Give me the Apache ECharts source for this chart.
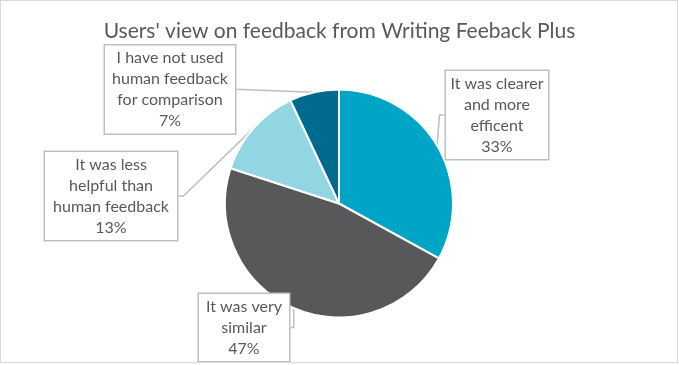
<!DOCTYPE html>
<html>
<head>
<meta charset="utf-8">
<script src="https://cdn.jsdelivr.net/npm/echarts@6/dist/echarts.min.js"></script>
<style>
  html, body { margin: 0; padding: 0; background: #fff; }
  #wrap { position: relative; width: 679px; height: 365px; overflow: hidden; }
  #chart { position: absolute; left: 0; top: 0; width: 679px; height: 365px; }
  #frame { position: absolute; left: 0; top: 0; width: 678px; height: 363px; box-sizing: border-box; border: 1.5px solid #D9D9D9; pointer-events: none; }
  #strip { position: absolute; left: 0; top: 363px; width: 679px; height: 2px; background: #fff; }
</style>
</head>
<body>
<div id="wrap">
  <div id="chart"></div>
  <div id="strip"></div>
  <div id="frame"></div>
</div>
<script>
const titleText = "Users' view on feedback from Writing Feeback Plus";
const categories = [
  "It was clearer and more efficent",
  "It was very similar",
  "It was less helpful than human feedback",
  "I have not used human feedback for comparison"
];
const labelLines = [
  "It was clearer\nand more\nefficent",
  "It was very\nsimilar",
  "It was less\nhelpful than\nhuman feedback",
  "I have not used\nhuman feedback\nfor comparison"
];
const values = [33, 47, 13, 7];
const colors = ["#00A4C7", "#58585A", "#92D5E3", "#006A8F"];

// label box placement (centre x, centre y, content width)
const boxes = [
  { x: 497, y: 115, w: 94 },
  { x: 244, y: 327.5, w: 82 },
  { x: 111, y: 196, w: 124 },
  { x: 170, y: 89.5, w: 122 }
];

const chart = echarts.init(document.getElementById('chart'), null, { renderer: 'canvas' });
const data = categories.map((c, i) => ({
  name: c,
  value: values[i],
  itemStyle: { color: colors[i] },
  label: { width: boxes[i].w }
}));

chart.setOption({
  animation: false,
  title: {
    text: titleText,
    left: 'center',
    top: 16,
    textStyle: { fontFamily: 'Lato', fontWeight: 'normal', fontSize: 21, color: '#595959' }
  },
  series: [{
    type: 'pie',
    center: [339, 203.5],
    radius: [0, 114],
    startAngle: 90,
    clockwise: true,
    data: data,
    itemStyle: { borderColor: '#fff', borderWidth: 2 },
    label: {
      show: true,
      formatter: p => labelLines[p.dataIndex] + '\n' + p.value + '%',
      fontFamily: 'Lato',
      fontSize: 16,
      lineHeight: 21,
      color: '#595959',
      backgroundColor: '#fff',
      borderColor: '#BFBFBF',
      borderWidth: 1.5,
      padding: [2, 4],
      align: 'center',
      overflow: 'none'
    },
    labelLine: {
      show: true,
      length: 5,
      length2: 5,
      lineStyle: { color: '#BFBFBF', width: 1.5 }
    },
    labelLayout: function (params) {
      const b = boxes[params.dataIndex];
      return { x: b.x, y: b.y, align: 'center', verticalAlign: 'middle' };
    }
  }]
});
</script>
</body>
</html>
